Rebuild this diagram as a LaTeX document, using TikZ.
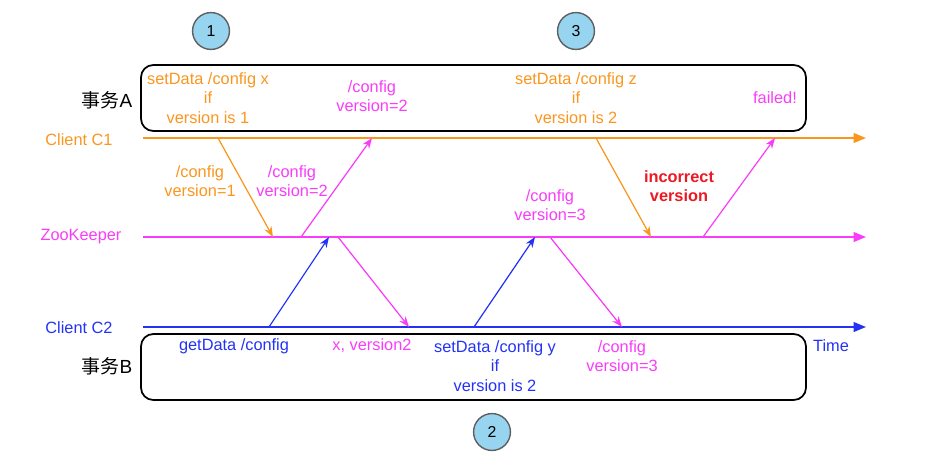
\documentclass[tikz,border=0pt]{standalone}
\usepackage{fontspec}
\setmainfont{Liberation Sans}
\newfontfamily\cjkfont{Noto Sans CJK SC}
\usetikzlibrary{arrows.meta}

\definecolor{cOrange}{RGB}{250,150,30}
\definecolor{cMagenta}{RGB}{250,60,250}
\definecolor{cBlue}{RGB}{35,50,245}
\definecolor{cCircle}{RGB}{150,212,240}
\definecolor{cRed}{RGB}{235,25,35}

\tikzset{
  timeline/.style={line width=1pt, -{Triangle[length=7pt,width=5.5pt]}},
  msg/.style={line width=0.7pt, -{Stealth[length=6pt,width=4.5pt]}},
  txbox/.style={draw=black, line width=1pt, rounded corners=7pt},
  lbl/.style={font=\fontsize{9.3}{11}\selectfont, align=center, inner sep=0pt},
  stepmark/.style={circle, draw=gray!75!black, fill=cCircle, line width=0.8pt,
    minimum size=21pt, inner sep=0pt, font=\fontsize{9}{10}\selectfont},
}

\begin{document}
\begin{tikzpicture}[x=0.02cm, y=-0.02cm]
  \useasboundingbox (0,0) rectangle (930,457);

  % transaction boxes
  \draw[txbox] (141,65) rectangle (806,131);
  \draw[txbox] (141,334) rectangle (806,400);
  \node[lbl, font=\fontsize{10.8}{12}\selectfont] (txA) at (107,100) {{\cjkfont 事务}A};
  \node[lbl, font=\fontsize{10.8}{12}\selectfont] (txB) at (107,366) {{\cjkfont 事务}B};

  % step markers
  \node[stepmark] (s1) at (211,31) {1};
  \node[stepmark] (s3) at (576,31) {3};
  \node[stepmark] (s2) at (492,432) {2};

  % time lines
  \coordinate (c1s) at (143,138); \coordinate (c1e) at (866,138);
  \coordinate (zks) at (143,237); \coordinate (zke) at (866,237);
  \coordinate (c2s) at (143,327); \coordinate (c2e) at (866,327);
  \draw[timeline, cOrange] (c1s) -- (c1e);
  \draw[timeline, cMagenta] (zks) -- (zke);
  \draw[timeline, cBlue] (c2s) -- (c2e);
  \node[lbl, text=cOrange] (c1) at (79,140) {Client C1};
  \node[lbl, text=cMagenta] (zk) at (81,237) {ZooKeeper};
  \node[lbl, text=cBlue] (c2) at (79,328) {Client C2};
  \node[lbl, text=cBlue] (time) at (831,346) {Time};

  % message end points
  \coordinate (m1a) at (218,138); \coordinate (m1b) at (273,237);
  \coordinate (m2a) at (301,237); \coordinate (m2b) at (372,138);
  \coordinate (m3a) at (269,327); \coordinate (m3b) at (329,237);
  \coordinate (m4a) at (338,237); \coordinate (m4b) at (409,327);
  \coordinate (m5a) at (474,327); \coordinate (m5b) at (535,237);
  \coordinate (m6a) at (550,237); \coordinate (m6b) at (622,327);
  \coordinate (m7a) at (596,138); \coordinate (m7b) at (651,237);
  \coordinate (m8a) at (703,237); \coordinate (m8b) at (775,138);

  \draw[msg, cOrange] (m1a) -- (m1b);
  \draw[msg, cMagenta] (m2a) -- (m2b);
  \draw[msg, cBlue] (m3a) -- (m3b);
  \draw[msg, cMagenta] (m4a) -- (m4b);
  \draw[msg, cBlue] (m5a) -- (m5b);
  \draw[msg, cMagenta] (m6a) -- (m6b);
  \draw[msg, cOrange] (m7a) -- (m7b);
  \draw[msg, cMagenta] (m8a) -- (m8b);

  % labels along the messages
  \node[lbl, text=cOrange] (v1) at (200,181) {/config\\version=1};
  \node[lbl, text=cMagenta] (v2) at (292,181) {/config\\version=2};
  \node[lbl, text=cMagenta] (v3) at (550,205) {/config\\version=3};
  \node[lbl, text=cRed, font=\fontsize{9.3}{11}\selectfont\bfseries] (bad) at (679,186) {incorrect\\version};

  % texts in box A
  \node[lbl, text=cOrange] (setx) at (208,98) {setData /config x\\if\\version is 1};
  \node[lbl, text=cMagenta] (retA) at (372,96) {/config\\version=2};
  \node[lbl, text=cOrange] (setz) at (576,98) {setData /config z\\if\\version is 2};
  \node[lbl, text=cMagenta] (fail) at (775,98) {failed!};

  % texts in box B
  \node[lbl, text=cBlue] (get) at (234,346) {getData /config};
  \node[lbl, text=cMagenta] (retB) at (372,346) {x, version2};
  \node[lbl, text=cBlue] (sety) at (495,366) {setData /config y\\if\\version is 2};
  \node[lbl, text=cMagenta] (retC) at (622,356) {/config\\version=3};
\end{tikzpicture}
\end{document}
